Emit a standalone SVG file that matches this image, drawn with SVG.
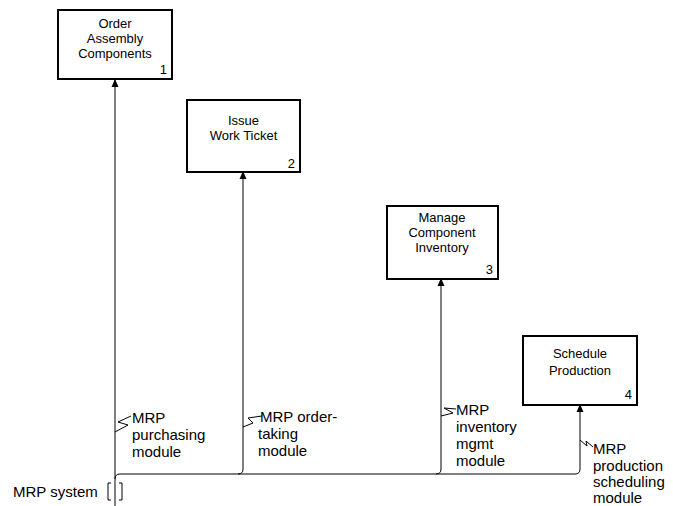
<svg xmlns="http://www.w3.org/2000/svg" width="673" height="506" viewBox="0 0 673 506">
<style>
.box{fill:#fff;stroke:#000;stroke-width:2}
.bt{font-family:"Liberation Sans",Arial,sans-serif;font-size:13px;fill:#000;text-anchor:middle}
.num{font-family:"Liberation Sans",Arial,sans-serif;font-size:13px;fill:#000;text-anchor:end}
.lbl{font-family:"Liberation Sans",Arial,sans-serif;font-size:15px;fill:#000}
.ln{fill:none;stroke:#000;stroke-width:1}
.sq{fill:none;stroke:#000;stroke-width:1}
</style>
<defs>
<marker id="ah" markerWidth="8" markerHeight="10" refX="7" refY="3.5" orient="auto" markerUnits="userSpaceOnUse" viewBox="0 0 8 7">
<path d="M0,0 L8,3.5 L0,7 Z" fill="#000"/>
</marker>
</defs>
<g id="connectors">
<path class="ln" d="M115,506 V80" marker-end="url(#ah)"/>
<path class="ln" d="M115,479 Q115,474 120,474 H575 Q580,474 580,469 V405" marker-end="url(#ah)"/>
<path class="ln" d="M238,474 Q243,474 243,469 V172" marker-end="url(#ah)"/>
<path class="ln" d="M436,474 Q441,474 441,469 V279" marker-end="url(#ah)"/>
<path class="ln" d="M111,483 H108 V500 H111 M119,483 H122 V500 H119"/>
<path class="sq" d="M131,416 L118,422 L128,425 L115,432"/>
<path class="sq" d="M262,416 L248,418 L253,423 L243,427"/>
<path class="sq" d="M456,409 L444,408 L453,413 L441,416"/>
<path class="sq" d="M580,440 L587,446 L586,441 L593,447"/>
</g>
<g id="label-system"><text class="lbl" x="13" y="497">MRP system</text></g>
<g id="label-purchasing"><text class="lbl" x="132" y="423">MRP</text><text class="lbl" x="132" y="440">purchasing</text><text class="lbl" x="132" y="457">module</text></g>
<g id="label-ordertaking"><text class="lbl" x="260" y="422">MRP order-</text><text class="lbl" x="258" y="439">taking</text><text class="lbl" x="258" y="456">module</text></g>
<g id="label-inventory"><text class="lbl" x="456" y="415">MRP</text><text class="lbl" x="456" y="432">inventory</text><text class="lbl" x="456" y="449">mgmt</text><text class="lbl" x="456" y="466">module</text></g>
<g id="label-production"><text class="lbl" x="593" y="454">MRP</text><text class="lbl" x="593" y="471">production</text><text class="lbl" x="593" y="487">scheduling</text><text class="lbl" x="593" y="503">module</text></g>
<g id="node1"><rect class="box" x="58" y="10" width="114" height="69"/><text class="bt" x="115" y="28">Order</text><text class="bt" x="115" y="43">Assembly</text><text class="bt" x="115" y="58">Components</text><text class="num" x="167" y="74">1</text></g>
<g id="node2"><rect class="box" x="187" y="100" width="113" height="72"/><text class="bt" x="243.5" y="125">Issue</text><text class="bt" x="243.5" y="140">Work Ticket</text><text class="num" x="295" y="168">2</text></g>
<g id="node3"><rect class="box" x="387" y="206" width="111" height="73"/><text class="bt" x="442" y="222">Manage</text><text class="bt" x="442" y="237">Component</text><text class="bt" x="442" y="252">Inventory</text><text class="num" x="493" y="274">3</text></g>
<g id="node4"><rect class="box" x="523" y="336" width="114" height="69"/><text class="bt" x="580" y="358">Schedule</text><text class="bt" x="580" y="375">Production</text><text class="num" x="632" y="399">4</text></g>
</svg>
